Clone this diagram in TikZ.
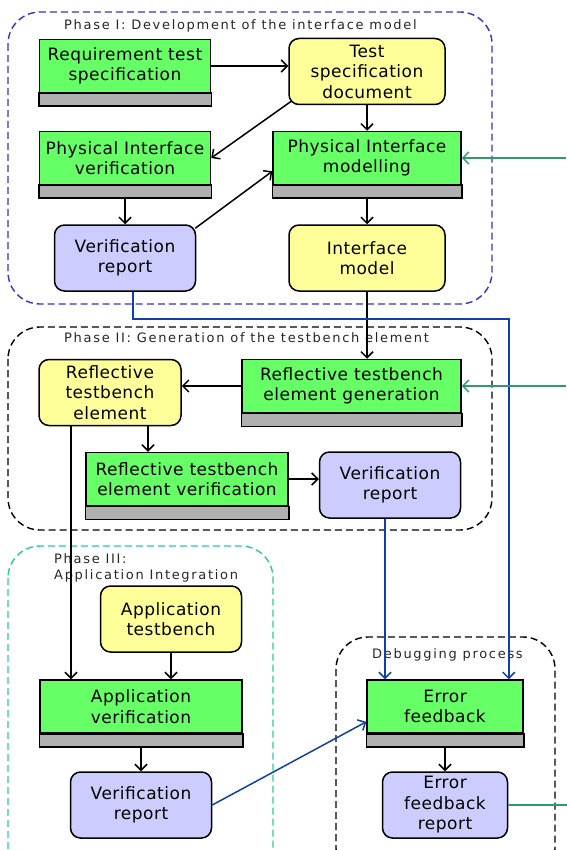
\documentclass[tikz,border=0pt]{standalone}
\usepackage{fontspec}
\setmainfont[LetterSpace=3]{DejaVu Sans}
\newfontfamily\phasefont[LetterSpace=13]{DejaVu Sans}
\usetikzlibrary{arrows.meta}
\definecolor{taskgreen}{HTML}{66FF66}
\definecolor{bargrey}{HTML}{B0B0B0}
\definecolor{docyellow}{HTML}{FFFF99}
\definecolor{replav}{HTML}{CCCCFF}
\definecolor{phaseblue}{HTML}{3333CC}
\definecolor{phaseteal}{HTML}{22CCA0}
\definecolor{flowblue}{HTML}{0F3FA8}
\definecolor{inputgreen}{HTML}{33996A}
\tikzstyle{task}=[draw, line width=1.5pt, fill=taskgreen, minimum height=53pt, align=center, inner sep=1pt, font=\fontsize{17}{20.5}\selectfont]
\tikzstyle{doc}=[draw, line width=1.5pt, fill=docyellow, rounded corners=10pt, minimum height=66pt, align=center, inner sep=1pt, font=\fontsize{17}{20.5}\selectfont]
\tikzstyle{report}=[doc, fill=replav]
\tikzstyle{bar}=[draw, line width=1.5pt, fill=bargrey]
\tikzstyle{phase}=[line width=1.4pt, dash pattern=on 7pt off 4pt, rounded corners=32pt]
\tikzstyle{phasetitle}=[inner sep=0pt, font=\phasefont\fontsize{13}{16}\selectfont, text=black!85]
\tikzstyle{flow}=[-{Straight Barb[length=6pt,width=12pt]}, line width=1.5pt]
\tikzstyle{bflow}=[flow, draw=flowblue]
\tikzstyle{gflow}=[flow, draw=inputgreen]

\begin{document}
\begin{tikzpicture}[x=1pt,y=-1pt]
    \useasboundingbox (0,0) rectangle (566,850);
    % phase frames
    \draw[phase, phaseblue] (8,12) rectangle (492,304);
    \draw[phase, black] (8,327) rectangle (492,530);
    \draw[phase, phaseteal] (8,546) rectangle (273,880);
    \draw[phase, black] (336,637) rectangle (555,880);
    \node[phasetitle, anchor=base west] (t1) at (64,30) {Phase I: Development of the interface model};
    \node[phasetitle, anchor=base west] (t2) at (64,342) {Phase II: Generation of the testbench element};
    \node[phasetitle, anchor=north west, align=left] (t3) at (54,553) {Phase III:\\Application Integration};
    \node[phasetitle, anchor=base west] (t4) at (372,658) {Debugging process};

    % phase I
    \node[task, minimum width=171pt] (reqspec) at (125,66) {Requirement test\\specification};
    \node[doc, minimum width=156pt] (testdoc) at (367,71.5) {Test\\specification\\document};
    \node[task, minimum width=171pt] (piverif) at (125,158) {Physical Interface\\verification};
    \node[task, minimum width=188pt] (pimodel) at (367,158) {Physical Interface\\modelling};
    \node[report, minimum width=141pt] (vrep1) at (125,258) {Verification\\report};
    \node[doc, minimum width=156pt] (ifmodel) at (367,258) {Interface\\model};

    % phase II
    \node[doc, minimum width=142pt] (rtelem) at (110,392.5) {Reflective\\testbench\\element};
    \node[task, minimum width=219pt] (rtegen) at (351.5,386) {Reflective testbench\\element generation};
    \node[task, minimum width=202pt] (rteverif) at (187,479) {Reflective testbench\\element verification};
    \node[report, minimum width=141pt] (vrep2) at (390,485) {Verification\\report};

    % phase III
    \node[doc, minimum width=141pt] (apptb) at (171,619) {Application\\testbench};
    \node[task, minimum width=202pt] (appverif) at (141,706.5) {Application\\verification};
    \node[report, minimum width=141pt] (vrep3) at (141,805) {Verification\\report};

    % debugging
    \node[task, minimum width=156pt] (errfb) at (445,706.5) {Error\\feedback};
    \node[report, minimum width=125pt] (errrep) at (445,805) {Error\\feedback\\report};

    % grey bars under the tasks
    \foreach \n in {reqspec,piverif,pimodel,rtegen,rteverif,appverif,errfb}{
        \draw[bar] (\n.south west) rectangle ([yshift=-13pt]\n.south east);
        \coordinate (\n-b) at ([yshift=-13pt]\n.south);
    }

    \coordinate (in1) at (566,158);
    \coordinate (in2) at (566,386);
    \coordinate (vr1out) at ([xshift=8pt]vrep1.south);
    \coordinate (vr2out) at ([xshift=-5pt]vrep2.south);
    \coordinate (rteout) at ([xshift=38pt]rtelem.south);
    \coordinate (rtedown) at ([xshift=-39pt]rtelem.south);
    \coordinate (fbin) at ([xshift=-15pt]errfb.north east);

    \draw[flow] (reqspec.east) -- (reqspec.east -| testdoc.west);
    \draw[flow] ([shift={(3pt,4pt)}]testdoc.south west) -- (piverif.east);
    \draw[flow] (testdoc.south) -- (pimodel.north);
    \draw[flow] (piverif-b) -- (vrep1.north);
    \draw[flow] ([shift={(-1pt,-4pt)}]vrep1.north east) -- (pimodel.188);
    \draw[flow] (pimodel-b) -- (ifmodel.north);
    \draw[gflow] (in1) -- (pimodel.east);
    \draw[flow] (ifmodel.south) -- (ifmodel.south |- rtegen.north);
    \draw[bflow] (vr1out) -- ++(0,27) -| (fbin);

    \draw[flow] (rtegen.west) -- (rtegen.west -| rtelem.east);
    \draw[gflow] (in2) -- (rtegen.east);
    \draw[flow] (rteout) -- (rteout |- rteverif.north);
    \draw[flow] (rteverif.east) -- (rteverif.east -| vrep2.west);
    \draw[bflow] (vr2out) -- (vr2out |- errfb.north);
    \draw[flow] (rtedown) -- (rtedown |- appverif.north);

    \draw[flow] (apptb.south) -- (apptb.south |- appverif.north);
    \draw[flow] (appverif-b) -- (vrep3.north);
    \draw[bflow] (vrep3.east) -- (errfb.191);
    \draw[flow] (errfb-b) -- (errrep.north);
    \draw[line width=1.5pt, inputgreen] (errrep.east) -- ++(60,0);
\end{tikzpicture}
\end{document}
